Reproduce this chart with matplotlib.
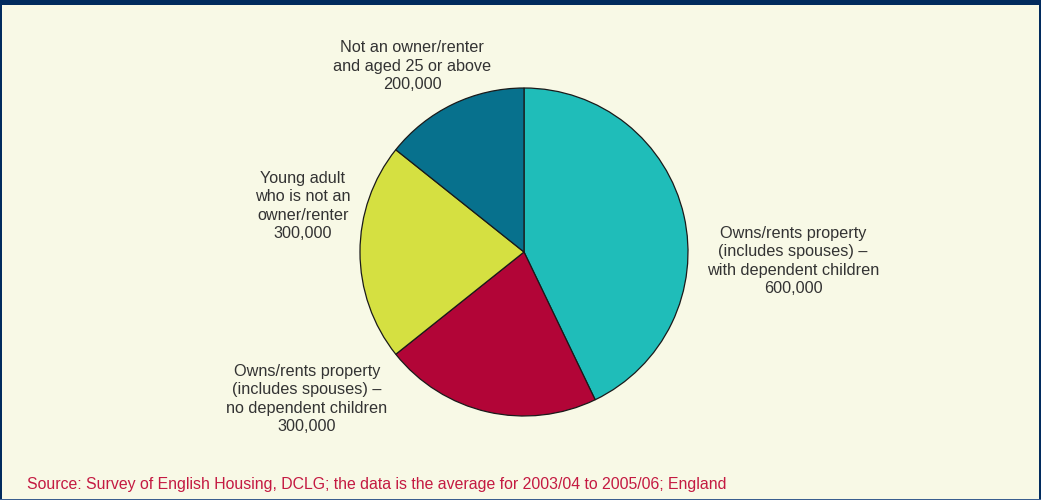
import matplotlib.pyplot as plt
from matplotlib.patches import Rectangle

plt.rcParams['font.family'] = ['Liberation Sans', 'DejaVu Sans']

# households by ownership status, England
groups = ["Owns/rents property\n(includes spouses) \u2013\nwith dependent children",
          "Owns/rents property\n(includes spouses) \u2013\nno dependent children",
          "Young adult\nwho is not an\nowner/renter",
          "Not an owner/renter\nand aged 25 or above"]
counts = [600000, 300000, 300000, 200000]
colors = ["#1FBDB9", "#B20537", "#D5E041", "#07718D"]

# label anchors in pixel space (x, y from top)
label_pos = [(793, 261), (307, 399), (303, 206), (412, 66)]

W, H = 1041, 500
bg = "#F8F9E6"
navy = "#012B5E"

fig = plt.figure(figsize=(W / 100, H / 100), dpi=100, facecolor=bg)
ax = fig.add_axes([0, 0, 1, 1])

ax.pie(counts, colors=colors, startangle=90, counterclock=False,
       center=(524, H - 252), radius=164,
       wedgeprops=dict(edgecolor="#1a1a1a", linewidth=0.9))
ax.set_xlim(0, W)
ax.set_ylim(0, H)
ax.set_aspect("equal")
ax.axis("off")

for name, n, (x, y) in zip(groups, counts, label_pos):
    ax.text(x, H - y, f"{name}\n{n:,}", ha="center", va="center",
            fontsize=11.7, color="#333333", linespacing=1.27)

ax.text(27, H - 484, "Source: Survey of English Housing, DCLG; the data is the "
        "average for 2003/04 to 2005/06; England",
        ha="left", va="center", fontsize=11.45, color="#C41A42")

# frame
fig.patches.append(Rectangle((0, 1 - 5 / H), 1, 5 / H, transform=fig.transFigure,
                             facecolor=navy, edgecolor="none"))
fig.patches.append(Rectangle((0, 0), 2 / W, 1, transform=fig.transFigure,
                             facecolor=navy, edgecolor="none"))
fig.patches.append(Rectangle((1 - 2 / W, 0), 2 / W, 1, transform=fig.transFigure,
                             facecolor=navy, edgecolor="none"))
fig.patches.append(Rectangle((0, 0), 1, 1.5 / H, transform=fig.transFigure,
                             facecolor="#3A5F8F", edgecolor="none"))

fig.savefig("out.png", dpi=100, facecolor=bg)
